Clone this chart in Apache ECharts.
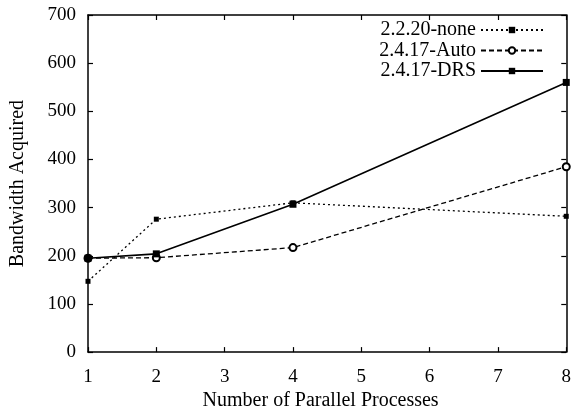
<!DOCTYPE html>
<html>
<head>
<meta charset="utf-8">
<script src="https://cdn.jsdelivr.net/npm/echarts@6/dist/echarts.min.js"></script>
<style>
html,body{margin:0;padding:0;background:#fff;}
#main{width:574px;height:416px;}
</style>
</head>
<body>
<div id="main"></div>
<script>
// data
let procs = [1, 2, 4, 8];
let noneVals = [147, 276, 310, 282];
let autoVals = [195, 196, 217, 385];
let drsVals = [195, 204, 307, 560];
let names = ['2.2.20-none', '2.4.17-Auto', '2.4.17-DRS'];

function pairs(vals){
	let out = [];
	for(let i=0;i<procs.length;i++){
		out.push([procs[i], vals[i]]);
	}
	return out;
}

let font = 'Liberation Serif';
let axisLine = {show:true, onZero:false, lineStyle:{color:'#000', width:1.5}};
let tick = {show:true, inside:true, length:5, lineStyle:{color:'#000', width:1.2}};

var myChart = echarts.init(document.getElementById('main'));
var option = {
	animation:false,
	backgroundColor:'#fff',
	grid:{left:87, right:7, top:15, bottom:60},
	legend:{
		orient:'vertical',
		right:30,
		top:20,
		padding:0,
		align:'right',
		itemWidth:62,
		itemHeight:8,
		itemGap:0.5,
		data:names,
		textStyle:{fontFamily:font, fontSize:20, lineHeight:19, color:'#000'}
	},
	xAxis:[{
		type:'value', min:1, max:8, interval:1,
		name:'Number of Parallel Processes',
		nameLocation:'middle', nameGap:34,
		nameTextStyle:{fontFamily:font, fontSize:20, color:'#000', padding:[0,13,0,0]},
		axisLine:axisLine, axisTick:tick,
		axisLabel:{fontFamily:font, fontSize:19, color:'#000', margin:15},
		splitLine:{show:false}
	},{
		type:'value', min:1, max:8, interval:1, position:'top',
		axisLine:axisLine, axisTick:tick,
		axisLabel:{show:false}, splitLine:{show:false}
	}],
	yAxis:[{
		type:'value', min:0, max:700, interval:100,
		name:'Bandwidth Acquired',
		nameLocation:'middle', nameGap:60,
		nameTextStyle:{fontFamily:font, fontSize:20, color:'#000'},
		axisLine:axisLine, axisTick:tick,
		axisLabel:{fontFamily:font, fontSize:19, color:'#000', margin:12},
		splitLine:{show:false}
	},{
		type:'value', min:0, max:700, interval:100, position:'right',
		axisLine:axisLine, axisTick:tick,
		axisLabel:{show:false}, splitLine:{show:false}
	}],
	series:[{
		name:names[0], type:'line', data:pairs(noneVals),
		symbol:'rect', symbolSize:5,
		lineStyle:{color:'#000', width:1.3, type:[2,3]},
		itemStyle:{color:'#000'}
	},{
		name:names[1], type:'line', data:pairs(autoVals),
		symbol:'emptyCircle', symbolSize:7,
		lineStyle:{color:'#000', width:1.3, type:[5,3]},
		itemStyle:{color:'#000', borderColor:'#000', borderWidth:1.2}
	},{
		name:names[2], type:'line', data:pairs(drsVals),
		symbol:'rect', symbolSize:7,
		lineStyle:{color:'#000', width:1.6, type:'solid'},
		itemStyle:{color:'#000'}
	}]
};
myChart.setOption(option);
</script>
</body>
</html>
